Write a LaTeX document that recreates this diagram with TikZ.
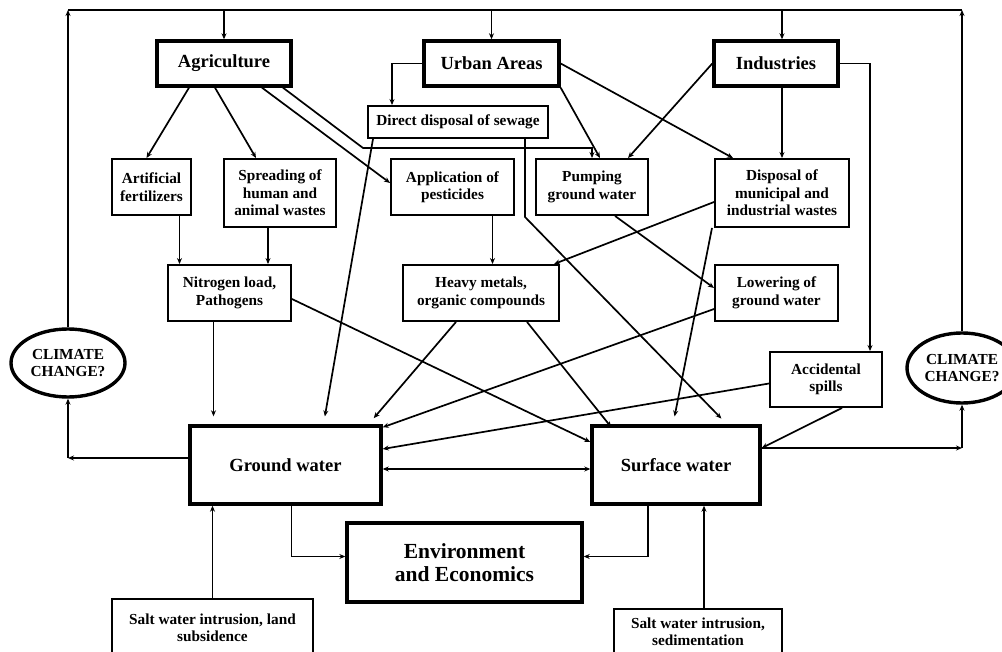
\documentclass[tikz,border=0pt]{standalone}
\usepackage{fontspec}
\setmainfont{Liberation Serif}
\usetikzlibrary{positioning,calc,arrows.meta,shapes.geometric}

\begin{document}
\begin{tikzpicture}[x=1pt, y=-1pt, line width=1.7pt,
    >={Stealth[length=6pt,width=5pt]},
    box/.style={rectangle, draw=black, line width=1.9pt, inner sep=0pt, align=center,
      font=\fontsize{15.3}{17.5}\selectfont\bfseries},
    bigbox/.style={box, line width=3.4pt, font=\fontsize{18.5}{22}\selectfont\bfseries},
    climate/.style={ellipse, draw=black, line width=3.4pt, inner sep=0pt, align=center,
      font=\fontsize{15.3}{17}\selectfont\bfseries},
    short/.style={shorten >=8pt}]
    \useasboundingbox (0,0) rectangle (1002,652);
    \clip (0,0) rectangle (1002,652);

       % sources
       \node [bigbox, minimum width=134pt, minimum height=45pt] at (224,63.5)  (agri)  {Agriculture};
       \node [bigbox, minimum width=135pt, minimum height=45pt] at (491.5,63.5) (urban) {Urban Areas};
       \node [bigbox, minimum width=124pt, minimum height=45pt] at (776,63.5)  (indus) {Industries};

       % activities
       \node [box, minimum width=180pt, minimum height=32pt] at (458,122)   (sewage) {Direct disposal of sewage};
       \node [box, minimum width=79pt,  minimum height=56pt] at (151.5,187) (fert)   {Artificial\\fertilizers};
       \node [box, minimum width=112pt, minimum height=68pt] at (280,193)   (spread) {Spreading of\\human and\\animal wastes};
       \node [box, minimum width=123pt, minimum height=56pt] at (452.5,187) (pest)   {Application of\\pesticides};
       \node [box, minimum width=112pt, minimum height=56pt] at (592,187)   (pump)   {Pumping\\ground water};
       \node [box, minimum width=134pt, minimum height=68pt] at (782,193)   (dispo)  {Disposal of\\municipal and\\industrial wastes};

       % loads
       \node [box, minimum width=123pt, minimum height=56pt] at (229.5,293) (nitro)  {Nitrogen load,\\Pathogens};
       \node [box, minimum width=156pt, minimum height=56pt] at (481,293)   (heavy)  {Heavy metals,\\organic compounds};
       \node [box, minimum width=123pt, minimum height=56pt] at (776.5,293) (lower)  {Lowering of\\ground water};
       \node [box, minimum width=112pt, minimum height=55pt] at (826,379.5) (spills) {Accidental\\spills};

       % water and effects
       \node [bigbox, minimum width=191pt, minimum height=78pt] at (285.5,465) (gw)  {Ground water};
       \node [bigbox, minimum width=168pt, minimum height=78pt] at (676,465)   (sw)  {Surface water};
       \node [bigbox, minimum width=235pt, minimum height=79pt, font=\fontsize{21.5}{23}\selectfont\bfseries]
             at (464.5,562.5) (env) {Environment\\and Economics};
       \node [box, minimum width=201pt, minimum height=58pt] at (212.5,628) (saltL) {Salt water intrusion, land\\subsidence};
       \node [box, minimum width=168pt, minimum height=46pt] at (698,632)   (saltR) {Salt water intrusion,\\sedimentation};

       \node [climate, minimum width=114pt, minimum height=68pt] at (68,363)  (ccL) {CLIMATE\\CHANGE?};
       \node [climate, minimum width=110pt, minimum height=70pt] at (962,368) (ccR) {CLIMATE\\CHANGE?};

       \coordinate (topL) at (68,10);
       \coordinate (topR) at (962,10);
       \coordinate (cornerL) at (68,458);
       \coordinate (cornerR) at (962,448);
       \coordinate (bendA) at (363,148);
       \coordinate (bendB) at (525,217);

       % feedback frame
       \draw [->] (ccL.north) -- (topL);
       \draw [->] (ccR.north) -- (topR);
       \draw (topL) -- (topR);
       \draw [->] (agri.north |- topL) -- (agri.north);
       \draw [->] (urban.north |- topL) -- (urban.north);
       \draw [->] (dispo.north |- topL) -- (dispo.north |- indus.north);

       % agriculture
       \draw [->] ([xshift=-35pt]agri.south) -- ([xshift=-5pt]fert.north);
       \draw [->] ([xshift=-9pt]agri.south) -- ([xshift=-24pt]spread.north);
       \draw [->] ([xshift=38pt]agri.south) -- ([yshift=4pt]pest.west);
       \draw [->] ([xshift=59pt]agri.south) -- (bendA) -| (pump.north);

       % urban areas
       \draw [->] (urban.west) -| ([xshift=-66pt]sewage.north);
       \draw [->] (urban.south east) -- ([xshift=8pt]pump.north);
       \draw [->] (urban.east) -- ([xshift=-49pt]dispo.north);

       % industries
       \draw [->] (indus.west) -- ([xshift=36pt]pump.north);
       \draw [->] (dispo.north |- indus.south) -- (dispo.north);
       \draw [->] (indus.east) -| ([xshift=44pt]spills.north);

       % sewage
       \draw [->, short] ([xshift=-85pt]sewage.south) -- ([xshift=38pt]gw.north);
       \draw [->, short] ([xshift=67pt]sewage.south) -- (bendB) -- ([xshift=51pt]sw.north);

       % second row
       \draw [->] ([xshift=40pt]pest.south) -- ([xshift=40pt]pest.south |- heavy.north);
       \draw [->] ([yshift=-9pt]dispo.west) -- ([xshift=-6pt]heavy.north east);
       \draw [->] ([xshift=23pt]pump.south) -- ([yshift=5pt]lower.west);
       \draw [->, short] ([xshift=-70pt]dispo.south) -- ([xshift=-3pt]sw.north);
       \draw [->] ([xshift=28pt]fert.south) -- ([xshift=28pt]fert.south |- nitro.north);
       \draw [->] ([xshift=-12pt]spread.south) -- ([xshift=-12pt]spread.south |- nitro.north);

       % loads to water
       \draw [->, short] ([xshift=-16pt]nitro.south) -- ([xshift=-16pt]nitro.south |- gw.north);
       \draw [->] ([yshift=-6pt]nitro.east) -- ([yshift=23pt]sw.west);
       \draw [->, short] ([xshift=-25pt]heavy.south) -- ([xshift=83pt]gw.north);
       \draw [->] ([xshift=46pt]heavy.south) -- ([xshift=21pt,yshift=-3pt]sw.north west);
       \draw [->] ([yshift=-16pt]lower.west) -- ([yshift=-3pt]gw.north east);
       \draw [->] ([yshift=-4pt]spills.west) -- ([yshift=16pt]gw.east);
       \draw [->] ([xshift=16pt]spills.south) -- ([yshift=17pt]sw.east);

       % water bodies
       \draw [<->] ([yshift=-4pt]gw.east) -- ([yshift=-4pt]sw.west);
       \draw [->] ([yshift=7pt]gw.west) -- (cornerL);
       \draw [->] (cornerL) -- (ccL.south);
       \draw [->] ([yshift=17pt]sw.east) -- (cornerR);
       \draw [->] (cornerR) -- (ccR.south);
       \draw [->] ([xshift=6pt]gw.south) |- ([yshift=6pt]env.west);
       \draw [->] ([xshift=-28pt]sw.south) |- ([yshift=6pt]env.east);
       \draw [->] (saltL.north) -- (saltL.north |- gw.south);
       \draw [->] ([xshift=6pt]saltR.north) -- ([xshift=6pt]saltR.north |- sw.south);
    \end{tikzpicture}
\end{document}
